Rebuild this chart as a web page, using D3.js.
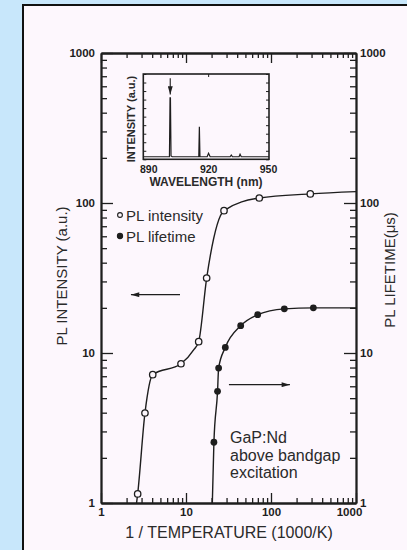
<!DOCTYPE html>
<html><head><meta charset="utf-8">
<script src="https://cdn.jsdelivr.net/npm/d3@7"></script>
<style>
html,body{margin:0;padding:0;background:#c8e7fb;}
svg{display:block;font-family:"Liberation Sans",Arial,sans-serif;}
</style></head><body>
<svg id="c" width="407" height="550"></svg>
<script>
// ---- data ----
const intensityT = [2.70, 3.29, 4.06, 8.73, 14.1, 17.5, 28, 72.8, 290];
const intensityV = [1.15, 3.98, 7.17, 8.48, 11.9, 31.6, 88.9, 108, 115];
const intensityCurveT = [2.62, 2.70, 3.29, 4.06, 8.73, 12.5, 14.1, 17.5, 28, 72.8, 290, 1000];
const intensityCurveV = [1.0, 1.15, 3.98, 7.17, 8.48, 10.6, 11.9, 31.6, 88.9, 108, 115, 119];
const lifetimeT = [21.3, 23.5, 24.2, 29, 44, 69.7, 143.5, 315];
const lifetimeV = [2.54, 5.55, 7.94, 10.9, 15.2, 18.0, 19.7, 20.0];
const lifetimeCurveT = [20.4, 21.3, 23.5, 24.2, 29, 44, 69.7, 143.5, 315, 1000];
const lifetimeCurveV = [1.0, 2.54, 5.55, 7.94, 10.9, 15.2, 18.0, 19.7, 20.0, 20.0];
const decadeTicks = [1, 10, 100, 1000];
const decadeLabels = ["1", "10", "100", "1000"];
const insetTickLabels = [890, 920, 950];
const spectrumWl = [887.5, 900.6, 900.9, 901.1, 901.4, 902, 915.3, 915.6, 915.9, 919.5, 920.2, 921, 931, 931.6, 932.2, 935.5, 936, 936.6, 950.5];
const spectrumI  = [0.03, 0.03, 0.72, 0.72, 0.04, 0.03, 0.03, 0.38, 0.03, 0.03, 0.07, 0.03, 0.03, 0.05, 0.03, 0.03, 0.06, 0.03, 0.03];
const legendLabels = ["PL intensity", "PL lifetime"];
const noteLines = ["GaP:Nd", "above bandgap", "excitation"];

// ---- layout ----
const svg = d3.select("#c");
const ink = "#1e1e1e";
svg.append("rect").attr("x",23).attr("y",5).attr("width",420).attr("height",570)
  .attr("fill","#fdf7fd").attr("stroke","#111").attr("stroke-width",2);

const L=101, R=356, T=53, B=503;
const x = d3.scaleLog().domain([1,1000]).range([L,R]);
const y = d3.scaleLog().domain([1,1000]).range([B,T]);
const y2 = d3.scaleLog().domain([1,1000]).range([B,T]);

const minor = [];
[1,10,100].forEach(d=>{for(let k=2;k<=9;k++) minor.push(d*k);});

function styleAxis(g){
  g.selectAll("path").attr("stroke",ink).attr("stroke-width",1.8);
  g.selectAll("line").attr("stroke",ink).attr("stroke-width",1.3);
  g.selectAll("text").attr("fill",ink).attr("font-size",11.5).attr("font-weight","bold");
}
const fmt = d => decadeLabels[decadeTicks.indexOf(d)];

// bottom
let g = svg.append("g").attr("transform",`translate(0,${B})`)
  .call(d3.axisBottom(x).tickValues(minor).tickSize(-5).tickFormat("").tickSizeOuter(0));
styleAxis(g);
g = svg.append("g").attr("transform",`translate(0,${B})`)
  .call(d3.axisBottom(x).tickValues(decadeTicks).tickSize(-10).tickPadding(5).tickFormat(fmt).tickSizeOuter(0));
styleAxis(g);
g.selectAll("text").filter(d=>d===1000).attr("dx",-7);
// top
g = svg.append("g").attr("transform",`translate(0,${T})`)
  .call(d3.axisTop(x).tickValues(minor).tickSize(-5).tickFormat("").tickSizeOuter(0));
styleAxis(g);
g = svg.append("g").attr("transform",`translate(0,${T})`)
  .call(d3.axisTop(x).tickValues(decadeTicks).tickSize(-10).tickFormat("").tickSizeOuter(0));
styleAxis(g);
// left
g = svg.append("g").attr("transform",`translate(${L},0)`)
  .call(d3.axisLeft(y).tickValues(minor).tickSize(-6).tickFormat("").tickSizeOuter(0));
styleAxis(g);
g = svg.append("g").attr("transform",`translate(${L},0)`)
  .call(d3.axisLeft(y).tickValues(decadeTicks).tickSize(-12).tickPadding(6).tickFormat(fmt).tickSizeOuter(0));
styleAxis(g);
// right
g = svg.append("g").attr("transform",`translate(${R},0)`)
  .call(d3.axisRight(y2).tickValues(minor).tickSize(-6).tickFormat("").tickSizeOuter(0));
styleAxis(g);
g = svg.append("g").attr("transform",`translate(${R},0)`)
  .call(d3.axisRight(y2).tickValues(decadeTicks).tickSize(-12).tickPadding(4).tickFormat(fmt).tickSizeOuter(0));
styleAxis(g);

// axis titles
svg.append("text").attr("x",229).attr("y",538).attr("text-anchor","middle")
  .attr("font-size",16).attr("fill","#2a2a2a").text("1 / TEMPERATURE (1000/K)");
svg.append("text").attr("transform","translate(67,276) rotate(-90)").attr("text-anchor","middle")
  .attr("font-size",15).attr("fill","#2a2a2a").text("PL INTENSITY (a.u.)");
svg.append("text").attr("transform","translate(395,270) rotate(-90)").attr("text-anchor","middle")
  .attr("font-size",15).attr("fill","#2a2a2a").text("PL LIFETIME(μs)");

// curves
const line = (sx,sy) => d3.line().x(d=>sx(d[0])).y(d=>sy(d[1])).curve(d3.curveMonotoneX);
svg.append("path").datum(intensityCurveT.map((t,i)=>[t,intensityCurveV[i]]))
  .attr("d",line(x,y)).attr("fill","none").attr("stroke",ink).attr("stroke-width",1.4);
svg.append("path").datum(lifetimeCurveT.map((t,i)=>[t,lifetimeCurveV[i]]))
  .attr("d",line(x,y2)).attr("fill","none").attr("stroke",ink).attr("stroke-width",1.4);
svg.append("g").selectAll("circle").data(intensityT.map((t,i)=>[t,intensityV[i]])).join("circle")
  .attr("cx",d=>x(d[0])).attr("cy",d=>y(d[1])).attr("r",3.2)
  .attr("fill","#fdf7fd").attr("stroke",ink).attr("stroke-width",1.3);
svg.append("g").selectAll("circle").data(lifetimeT.map((t,i)=>[t,lifetimeV[i]])).join("circle")
  .attr("cx",d=>x(d[0])).attr("cy",d=>y2(d[1])).attr("r",3.4).attr("fill",ink);

// legend
const lg = svg.append("g").attr("font-size",15).attr("fill","#2a2a2a");
legendLabels.forEach((s,i)=>{
  const cy = 215 + i*21;
  lg.append("circle").attr("cx",120).attr("cy",cy).attr("r",i===0?2.4:2.6)
    .attr("fill",i===0?"none":ink).attr("stroke",ink).attr("stroke-width",1.1);
  lg.append("text").attr("x",126).attr("y",cy+5.5).text(s);
});

// arrows
const defs = svg.append("defs");
defs.append("marker").attr("id","ah").attr("viewBox","0 0 10 6").attr("refX",10).attr("refY",3)
  .attr("markerWidth",12).attr("markerHeight",5).attr("markerUnits","userSpaceOnUse").attr("orient","auto")
  .append("path").attr("d","M0,0L10,3L0,6Z").attr("fill",ink);
svg.append("line").attr("x1",x(8.5)).attr("x2",x(2.25)).attr("y1",y(24.5)).attr("y2",y(24.5))
  .attr("stroke",ink).attr("stroke-width",1.1).attr("marker-end","url(#ah)");
svg.append("line").attr("x1",x(32)).attr("x2",x(167)).attr("y1",y2(6.15)).attr("y2",y2(6.15))
  .attr("stroke",ink).attr("stroke-width",1.1).attr("marker-end","url(#ah)");

// note
const nt = svg.append("text").attr("font-size",16).attr("fill","#2a2a2a");
noteLines.forEach((s,i)=>nt.append("tspan").attr("x",230).attr("y",443+i*17.5).text(s));

// ---- inset ----
const ix = d3.scaleLinear().domain([887.5,950.5]).range([143.3,269]);
const iy = d3.scaleLinear().domain([0,1]).range([159.3,74]);
const ig = svg.append("g");
ig.append("rect").attr("x",143.3).attr("y",74).attr("width",269-143.3).attr("height",159.3-74)
  .attr("fill","none").attr("stroke",ink).attr("stroke-width",1.6);
const iyt = d3.range(0,1.01,0.1);
ig.append("g").attr("transform","translate(143.3,0)").call(d3.axisLeft(iy).tickValues(iyt).tickSize(-3).tickFormat("").tickSizeOuter(0))
  .call(g=>{g.select("path").remove(); g.selectAll("line").attr("stroke",ink);});
ig.append("g").attr("transform","translate(269,0)").call(d3.axisRight(iy).tickValues(iyt).tickSize(-3).tickFormat("").tickSizeOuter(0))
  .call(g=>{g.select("path").remove(); g.selectAll("line").attr("stroke",ink);});
const ibx = ig.append("g").attr("transform","translate(0,159.3)")
  .call(d3.axisBottom(ix).tickValues(insetTickLabels).tickSize(0).tickPadding(6).tickFormat(d3.format("d")));
ibx.select("path").remove();
ibx.selectAll("text").attr("font-size",10.5).attr("font-weight","bold").attr("fill",ink);
ig.append("g").attr("transform","translate(0,74)").call(d3.axisTop(ix).tickValues([920]).tickSize(-3).tickFormat(""))
  .call(g=>{g.select("path").remove(); g.selectAll("line").attr("stroke",ink);});
ig.append("path").datum(spectrumWl.map((w,i)=>[w,spectrumI[i]]))
  .attr("d",d3.line().x(d=>ix(d[0])).y(d=>iy(d[1]))).attr("fill","none").attr("stroke",ink).attr("stroke-width",1.2);
ig.append("line").attr("x1",ix(901)).attr("x2",ix(901)).attr("y1",iy(0.95)).attr("y2",iy(0.76))
  .attr("stroke",ink).attr("stroke-width",1.1).attr("marker-end","url(#ah)");
ig.append("text").attr("x",206).attr("y",186).attr("text-anchor","middle").attr("font-size",12)
  .attr("font-weight","bold").attr("fill","#2a2a2a").text("WAVELENGTH (nm)");
ig.append("text").attr("transform","translate(135,119) rotate(-90)").attr("text-anchor","middle")
  .attr("font-size",11).attr("font-weight","bold").attr("fill","#2a2a2a").text("INTENSITY (a.u.)");
</script></body></html>
